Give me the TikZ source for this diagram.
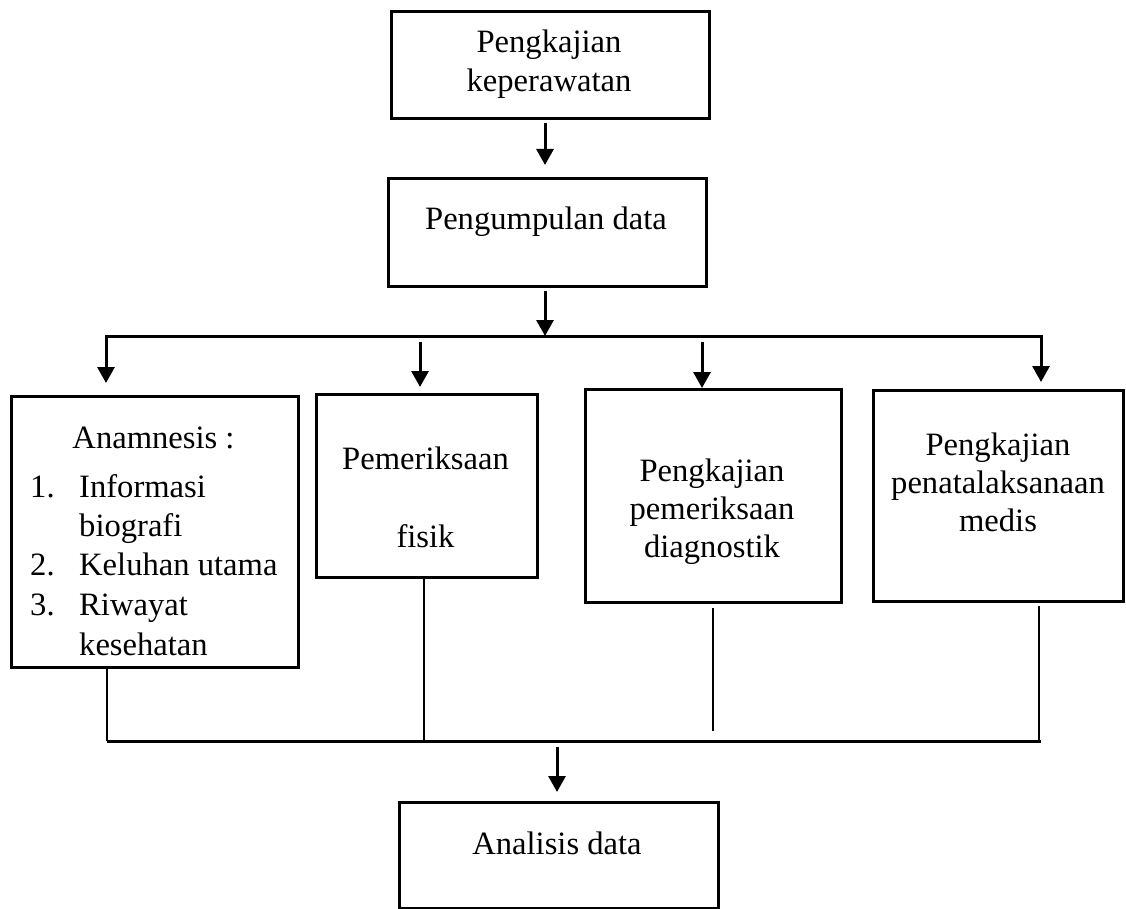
\documentclass[tikz,border=0pt]{standalone}
\usepackage{fontspec}
\setmainfont{Liberation Serif}
\usetikzlibrary{arrows.meta}
\begin{document}
\begin{tikzpicture}[x=1pt,y=-1pt,
  box/.style={draw, line width=3pt, rectangle, inner sep=0pt, anchor=north west},
  txt/.style={inner sep=0pt, anchor=base, font=\fontsize{32.6}{38}\selectfont},
  txtl/.style={txt, anchor=base west},
  arr/.style={line width=3pt, line join=miter, -{Triangle[length=16pt,width=17pt]}},
  ln/.style={line width=3pt},
  thinln/.style={line width=1.7pt}]
\useasboundingbox[fill=white] (0,0) rectangle (1126,909);

% boxes
\node[box, minimum width=318pt, minimum height=107pt] (b1) at (390,10) {};
\node[box, minimum width=318pt, minimum height=108pt] (b2) at (387,177) {};
\node[box, minimum width=287pt, minimum height=271pt] (b3) at (10,395) {};
\node[box, minimum width=221pt, minimum height=183pt] (b4) at (315,393) {};
\node[box, minimum width=256pt, minimum height=213pt] (b5) at (584,388) {};
\node[box, minimum width=250pt, minimum height=211pt] (b6) at (872,389) {};
\node[box, minimum width=319pt, minimum height=106pt] (b7) at (398,801) {};

% texts
\node[txt] (t1a) at (549,53) {Pengkajian};
\node[txt] (t1b) at (549,92) {keperawatan};
\node[txt] (t2) at (546,230) {Pengumpulan data};

\node[txt] (t3h) at (153.5,448) {Anamnesis :};
\node[txtl] (n1) at (30,497) {1.};
\node[txtl] (l1a) at (79,497) {Informasi};
\node[txtl] (l1b) at (79,536) {biografi};
\node[txtl] (n2) at (30,575) {2.};
\node[txtl] (l2) at (79,575) {Keluhan utama};
\node[txtl] (n3) at (30,615) {3.};
\node[txtl] (l3a) at (79,615) {Riwayat};
\node[txtl] (l3b) at (79,655) {kesehatan};

\node[txt] (t4a) at (425.5,469) {Pemeriksaan};
\node[txt] (t4b) at (425.5,547) {fisik};

\node[txt] (t5a) at (712,481) {Pengkajian};
\node[txt] (t5b) at (712,519) {pemeriksaan};
\node[txt] (t5c) at (712,557) {diagnostik};

\node[txt] (t6a) at (998,455) {Pengkajian};
\node[txt] (t6b) at (998,493) {penatalaksanaan};
\node[txt] (t6c) at (998,531) {medis};

\node[txt] (t7) at (557,854) {Analisis data};

% hub coordinates
\coordinate (hub) at (545,336);
\coordinate (hL) at (106,336);
\coordinate (hR) at (1041,336);
\coordinate (m4) at (420,342);
\coordinate (m5) at (702,342);
\coordinate (gL) at (107,741);
\coordinate (gR) at (1041,741);
\coordinate (gM) at (557,747);
\coordinate (r3) at (107,668);
\coordinate (r4) at (424,741);
\coordinate (r5a) at (713,608);
\coordinate (r5b) at (713,731);
\coordinate (r6) at (1039,606);

% connectors top
\draw[arr] ([yshift=-3pt]b1.south -| hub) -- ([yshift=12pt]b2.north -| hub);
\draw[arr] ([yshift=-3pt]b2.south -| hub) -- (hub);
\draw[arr] (hub) -- (hL) -- ([yshift=12pt]b3.north -| hL);
\draw[arr] (hub) -- (hR) -- ([yshift=7pt]b6.north -| hR);
\draw[arr] (m4) -- ([yshift=6pt]b4.north -| m4);
\draw[arr] (m5) -- (b5.north -| m5);

% connectors bottom
\draw[thinln] (r3) -- (gL);
\draw[thinln] (b4.south -| r4) -- (r4);
\draw[thinln] (r5a) -- (r5b);
\draw[thinln] (r6) -- (r6 |- gR);
\draw[ln] (gL) -- (gR);
\draw[arr] (gM) -- ([yshift=9pt]b7.north -| gM);
\end{tikzpicture}
\end{document}
